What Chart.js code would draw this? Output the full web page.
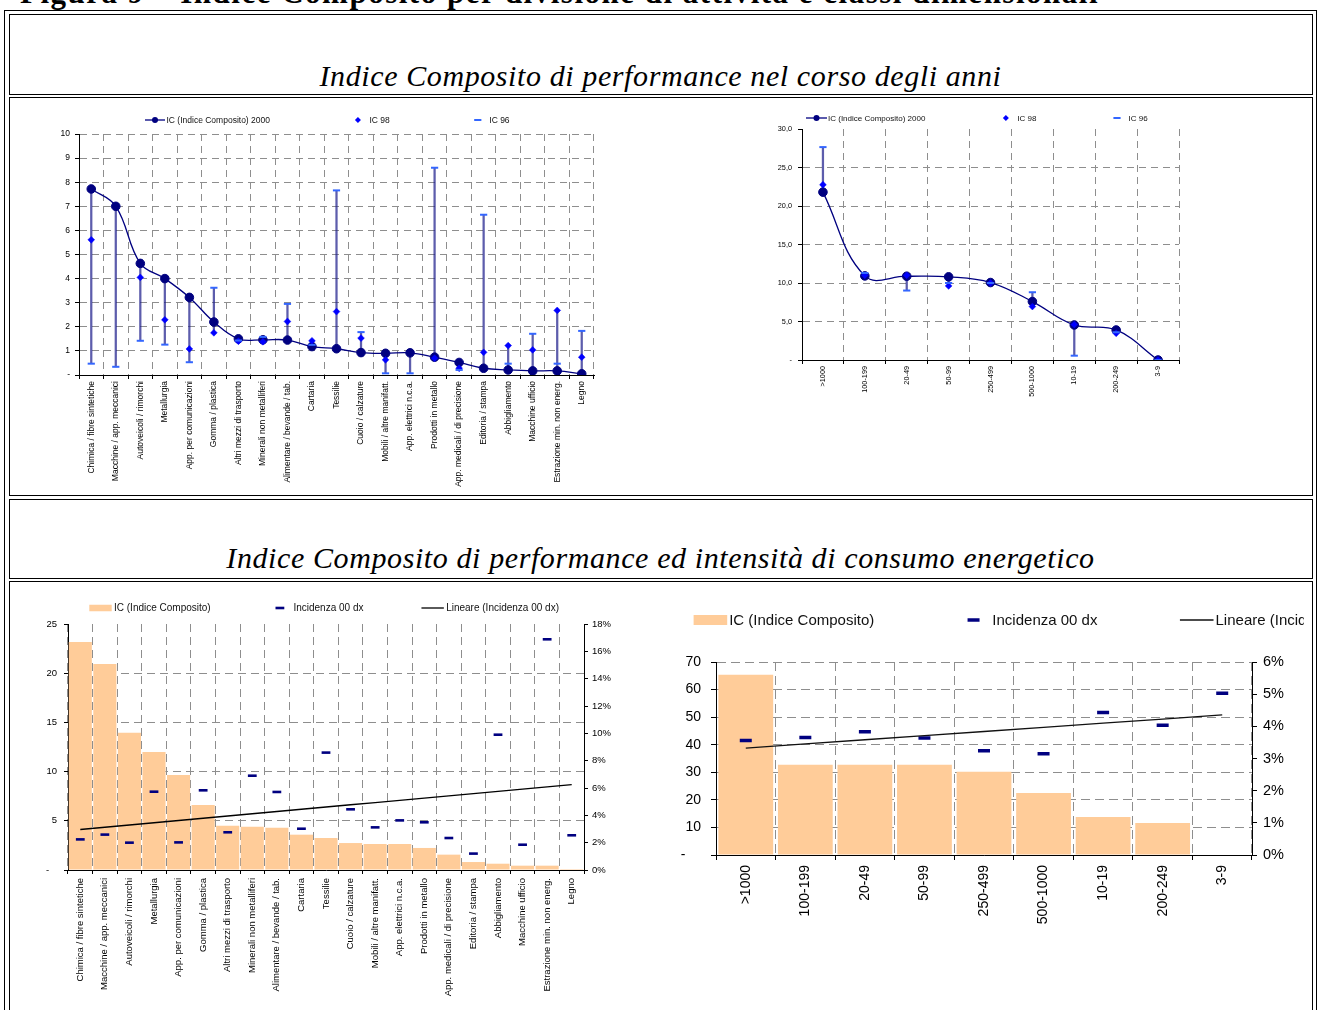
<!DOCTYPE html>
<html lang="it">
<head>
<meta charset="utf-8">
<title>Indice Composito di performance</title>
<script src="https://cdn.jsdelivr.net/npm/chart.js@4.4.1/dist/chart.umd.min.js"></script>
<style>
  html, body { margin: 0; padding: 0; background: #fff; }
  body { width: 1318px; height: 1010px; overflow: hidden; position: relative; }
  .frame { position: absolute; box-sizing: border-box; border: 1.5px solid #000; }
  .cell { position: absolute; box-sizing: border-box; border: 1.8px solid #000; left: 8.5px; width: 1304px; }
  .heading { position: absolute; left: 20px; top: -23px; font: bold 31px "Liberation Serif", serif; letter-spacing: 1.5px; line-height: 1; white-space: nowrap; color: #000; }
  .subtitle { position: absolute; left: 8.5px; width: 1304px; text-align: center; font: italic 30px "Liberation Serif", serif; letter-spacing: 0.6px; line-height: 1; white-space: nowrap; color: #000; }
  canvas { position: absolute; }
</style>
</head>
<body>
<div class="heading">Figura 9 – Indice Composito per divisione di attività e classi dimensionali</div>
<div class="frame" style="left:4px;top:10px;width:1313px;height:1040px"></div>
<div class="cell" style="top:14px;height:81px"></div>
<div class="cell" style="top:97px;height:398.5px"></div>
<div class="cell" style="top:498.5px;height:80.2px"></div>
<div class="cell" style="top:580.7px;height:470px"></div>
<div class="subtitle" style="top:61px">Indice Composito di performance nel corso degli anni</div>
<div class="subtitle" style="top:543px">Indice Composito di performance ed intensità di consumo energetico</div>
<canvas id="sectorYears" width="625" height="392" style="left:15px;top:100px"></canvas>
<canvas id="sizeYears" width="440" height="320" style="left:760px;top:100px"></canvas>
<canvas id="sectorEnergy" width="620" height="422" style="left:15px;top:588px"></canvas>
<canvas id="sizeEnergy" width="644" height="410" style="left:660px;top:600px"></canvas>
<script>
// ---- Divisioni di attività ----
const sectorLabels = [
  'Chimica / fibre sintetiche', 'Macchine / app. meccanici', 'Autoveicoli / rimorchi', 'Metallurgia',
  'App. per comunicazioni', 'Gomma / plastica', 'Altri mezzi di trasporto', 'Minerali non metalliferi',
  'Alimentare / bevande / tab.', 'Cartaria', 'Tessilie', 'Cuoio / calzature', 'Mobili / altre manifatt.',
  'App. elettrici n.c.a.', 'Prodotti in metallo', 'App. medicali / di precisione', 'Editoria / stampa',
  'Abbigliamento', 'Macchine ufficio', 'Estrazione min. non energ.', 'Legno'
];
const sectorIC2000 = [7.72, 7.0, 4.63, 4.0, 3.22, 2.2, 1.5, 1.46, 1.45, 1.18, 1.09, 0.93, 0.9, 0.92, 0.74, 0.52, 0.28, 0.21, 0.17, 0.17, 0.05];
const sectorIC98   = [5.61, null, 4.05, 2.29, 1.08, 1.75, 1.40, 1.38, 2.22, 1.42, 2.63, 1.53, 0.63, null, 0.70, 0.28, 0.94, 1.22, 1.04, 2.68, 0.74];
const sectorIC96   = [0.47, 0.34, 1.42, 1.26, 0.53, 3.62, 1.43, 1.58, 2.95, 1.25, 7.66, 1.78, 0.07, 0.07, 8.6, 0.21, 6.65, 0.47, 1.71, 0.47, 1.83];
const sectorIC     = [23.17, 20.93, 13.96, 11.99, 9.65, 6.6, 4.5, 4.4, 4.3, 3.59, 3.25, 2.74, 2.64, 2.64, 2.24, 1.56, 0.81, 0.64, 0.44, 0.44, 0.1];
const sectorIncidenza = [2.24, 2.59, 2.0, 5.73, 2.02, 5.83, 2.76, 6.9, 5.71, 3.02, 8.59, 4.44, 3.12, 3.63, 3.49, 2.34, 1.2, 9.9, 1.85, 16.88, 2.54]; // %

// ---- Classi dimensionali (addetti) ----
const sizeLabels = ['>1000', '100-199', '20-49', '50-99', '250-499', '500-1000', '10-19', '200-249', '3-9'];
const sizeIC2000 = [21.8, 10.92, 10.88, 10.8, 10.06, 7.59, 4.55, 3.9, 0];
const sizeIC98   = [22.76, 11.0, 11.0, 9.62, 10.0, 6.94, 4.6, 3.47, 0];
const sizeIC96   = [27.65, 11.3, 9.02, 10.0, 10.0, 8.8, 0.56, 3.6, 0];
const sizeIC     = [65.4, 32.7, 32.7, 32.7, 30.2, 22.5, 13.8, 11.6, 0];
const sizeIncidenza = [3.56, 3.65, 3.83, 3.64, 3.24, 3.15, 4.43, 4.03, 5.03]; // %

// ---- tick values ----
const sectorYearsTicks = [0, 1, 2, 3, 4, 5, 6, 7, 8, 9, 10];
const sizeYearsTicks = [0, 5, 10, 15, 20, 25, 30];
const sectorEnergyTicks = [0, 5, 10, 15, 20, 25];
const sectorEnergyPctTicks = [0, 2, 4, 6, 8, 10, 12, 14, 16, 18];
const sizeEnergyTicks = [0, 10, 20, 30, 40, 50, 60, 70];
const sizeEnergyPctTicks = [0, 1, 2, 3, 4, 5, 6];

const FONT = '"Liberation Sans", Arial, sans-serif';
const NAVY = '#000080', BLUE = '#0000FF', LIGHT = '#3366FF', PEACH = '#FFCC99';
const GRID = '#8e8e8e', HILO = 'rgba(30,30,140,0.72)';

// high-low span of the three surveys for each category
function spread(a, b, c) {
  return a.map((v, i) => {
    const vals = [v, b[i], c[i]].filter(x => x !== null && x !== undefined);
    return [Math.min(...vals), Math.max(...vals)];
  });
}

// least-squares linear trend over category positions 1..n
function linearTrend(values) {
  const n = values.length;
  let sx = 0, sy = 0, sxy = 0, sxx = 0;
  values.forEach((v, i) => { const x = i + 1; sx += x; sy += v; sxy += x * v; sxx += x * x; });
  const b = (n * sxy - sx * sy) / (n * sxx - sx * sx);
  const a = (sy - b * sx) / n;
  return values.map((_, i) => a + b * (i + 1));
}

// legend samples drawn in a single row, Excel style
function drawSample(ctx, ds, x, y, w, opts) {
  const cx = x + w / 2;
  ctx.save();
  switch (ds.legendSample) {
    case 'lineDot':
      ctx.strokeStyle = ds.borderColor; ctx.lineWidth = ds.borderWidth;
      ctx.beginPath(); ctx.moveTo(x, y); ctx.lineTo(x + w, y); ctx.stroke();
      ctx.fillStyle = ds.pointBackgroundColor;
      ctx.beginPath(); ctx.arc(cx, y, opts.dotRadius, 0, Math.PI * 2); ctx.fill();
      break;
    case 'diamond': {
      const r = opts.dotRadius;
      ctx.fillStyle = ds.pointBackgroundColor;
      ctx.beginPath(); ctx.moveTo(cx, y - r); ctx.lineTo(cx + r, y); ctx.lineTo(cx, y + r); ctx.lineTo(cx - r, y); ctx.closePath(); ctx.fill();
      break;
    }
    case 'dash':
      ctx.strokeStyle = ds.pointBorderColor; ctx.lineWidth = ds.pointBorderWidth;
      ctx.beginPath(); ctx.moveTo(cx - ds.pointRadius, y); ctx.lineTo(cx + ds.pointRadius, y); ctx.stroke();
      break;
    case 'box':
      ctx.fillStyle = ds.backgroundColor;
      ctx.fillRect(x, y - opts.boxHeight / 2, w, opts.boxHeight);
      break;
    case 'line':
      ctx.strokeStyle = ds.borderColor; ctx.lineWidth = ds.borderWidth;
      ctx.beginPath(); ctx.moveTo(x, y); ctx.lineTo(x + w, y); ctx.stroke();
      break;
  }
  ctx.restore();
}

const rowLegend = {
  id: 'rowLegend',
  afterDraw(chart, args, opts) {
    const ctx = chart.ctx;
    ctx.save();
    ctx.font = opts.size + 'px ' + FONT;
    ctx.textBaseline = 'middle';
    let x = opts.x;
    chart.data.datasets.forEach(ds => {
      if (!ds.legendSample) return;
      drawSample(ctx, ds, x, opts.y, opts.sampleWidth, opts);
      x += opts.sampleWidth + opts.textGap;
      ctx.fillStyle = '#111';
      ctx.fillText(ds.label, x, opts.y + 0.5);
      x += ctx.measureText(ds.label).width + opts.itemGap;
    });
    ctx.restore();
  }
};

const fixWidth = w => scale => { scale.width = w; };
const fixHeight = h => scale => { scale.height = h; };
const fromList = list => scale => { scale.ticks = list.map(v => ({ value: v })); };
const hideTop = max => c => (c.tick && c.tick.value === max ? 'rgba(0,0,0,0)' : GRID);

function categoryAxis(size, height, tickLen, pad, dash) {
  return {
    offset: true,
    grid: { offset: true, color: GRID, lineWidth: 1, tickColor: '#000', tickLength: tickLen },
    border: { color: '#000', width: 1, dash: dash },
    ticks: { font: { family: FONT, size: size }, color: '#000', minRotation: 90, maxRotation: 90, autoSkip: false, padding: pad },
    afterFit: fixHeight(height)
  };
}

function valueAxis(o) {
  return {
    position: o.position || 'left',
    min: o.list[0], max: o.list[o.list.length - 1],
    afterBuildTicks: fromList(o.list),
    grid: {
      color: o.gridColor || GRID, lineWidth: 1, tickColor: '#000', tickLength: o.tickLen,
      drawOnChartArea: o.drawGrid !== false
    },
    border: { color: '#000', width: 1, dash: o.dash },
    ticks: { font: { family: FONT, size: o.size }, color: '#000', padding: o.pad, callback: o.fmt },
    afterFit: fixWidth(o.width)
  };
}

const common = {
  responsive: false,
  animation: false,
  events: [],
  devicePixelRatio: 1
};

// ===== Indice Composito per divisione, 2000 / 98 / 96 =====
new Chart(document.getElementById('sectorYears'), {
  type: 'line',
  data: {
    labels: sectorLabels,
    datasets: [
      { label: 'IC (Indice Composito) 2000', data: sectorIC2000, borderColor: NAVY, borderWidth: 1.3,
        tension: 0.4, pointRadius: 4.3, pointBorderWidth: 1, pointBackgroundColor: NAVY, pointBorderColor: NAVY,
        order: 3, legendSample: 'lineDot' },
      { label: 'IC 98', data: sectorIC98, showLine: false, pointStyle: 'rectRot', pointRadius: 3.4,
        pointBorderWidth: 0.5, pointBackgroundColor: BLUE, pointBorderColor: BLUE, borderColor: BLUE,
        order: 2, legendSample: 'diamond' },
      { label: 'IC 96', data: sectorIC96, showLine: false, pointStyle: 'line', pointRadius: 3.6,
        pointBorderWidth: 2, pointBorderColor: LIGHT, borderColor: LIGHT,
        order: 1, legendSample: 'dash' },
      { type: 'bar', label: 'range', data: spread(sectorIC2000, sectorIC98, sectorIC96),
        backgroundColor: HILO, borderWidth: 0, barThickness: 1.6, order: 10 }
    ]
  },
  options: Object.assign({}, common, {
    layout: { padding: { top: 34, right: 46, left: 0, bottom: 0 } },
    scales: {
      x: categoryAxis(8.5, 117, 4, 2, [7, 5]),
      y: valueAxis({ list: sectorYearsTicks, size: 8.5, tickLen: 4, pad: 5, width: 64, dash: [7, 5],
        fmt: v => (v === 0 ? '-' : v) })
    },
    plugins: {
      legend: { display: false }, tooltip: { enabled: false },
      rowLegend: { x: 130, y: 20, sampleWidth: 20, textGap: 1.5, itemGap: 78, size: 8.5, dotRadius: 3 }
    }
  }),
  plugins: [rowLegend]
});

// ===== Indice Composito per classe dimensionale, 2000 / 98 / 96 =====
new Chart(document.getElementById('sizeYears'), {
  type: 'line',
  data: {
    labels: sizeLabels,
    datasets: [
      { label: 'IC (Indice Composito) 2000', data: sizeIC2000, borderColor: NAVY, borderWidth: 1.3,
        tension: 0.4, pointRadius: 4.3, pointBorderWidth: 1, pointBackgroundColor: NAVY, pointBorderColor: NAVY,
        order: 3, legendSample: 'lineDot' },
      { label: 'IC 98', data: sizeIC98, showLine: false, pointStyle: 'rectRot', pointRadius: 3.4,
        pointBorderWidth: 0.5, pointBackgroundColor: BLUE, pointBorderColor: BLUE, borderColor: BLUE,
        order: 2, legendSample: 'diamond' },
      { label: 'IC 96', data: sizeIC96, showLine: false, pointStyle: 'line', pointRadius: 3.6,
        pointBorderWidth: 2, pointBorderColor: LIGHT, borderColor: LIGHT,
        order: 1, legendSample: 'dash' },
      { type: 'bar', label: 'range', data: spread(sizeIC2000, sizeIC98, sizeIC96),
        backgroundColor: HILO, borderWidth: 0, barThickness: 1.6, order: 10 }
    ]
  },
  options: Object.assign({}, common, {
    layout: { padding: { top: 29, right: 21, left: 0, bottom: 0 } },
    scales: {
      x: categoryAxis(7.3, 60, 4, 2, [7, 5]),
      y: valueAxis({ list: sizeYearsTicks, size: 7.3, tickLen: 4, pad: 6, width: 42, dash: [7, 5],
        gridColor: hideTop(30),
        fmt: v => (v === 0 ? '-' : v.toFixed(1).replace('.', ',')) })
    },
    plugins: {
      legend: { display: false }, tooltip: { enabled: false },
      rowLegend: { x: 46, y: 18, sampleWidth: 21, textGap: 1, itemGap: 70, size: 8, dotRadius: 3 }
    }
  }),
  plugins: [rowLegend]
});

// ===== IC e incidenza energetica per divisione =====
new Chart(document.getElementById('sectorEnergy'), {
  type: 'bar',
  data: {
    labels: sectorLabels,
    datasets: [
      { label: 'IC (Indice Composito)', data: sectorIC, backgroundColor: PEACH, borderWidth: 0,
        categoryPercentage: 0.94, barPercentage: 1, yAxisID: 'y', order: 3, legendSample: 'box' },
      { type: 'line', label: 'Incidenza 00 dx', data: sectorIncidenza, yAxisID: 'y2', showLine: false,
        pointStyle: 'line', pointRadius: 4.4, pointBorderWidth: 2.6, pointBorderColor: NAVY, borderColor: NAVY,
        order: 2, legendSample: 'dash' },
      { type: 'line', label: 'Lineare (Incidenza 00 dx)', data: linearTrend(sectorIncidenza), yAxisID: 'y2',
        borderColor: '#000', borderWidth: 1.3, pointRadius: 0, tension: 0, order: 1, legendSample: 'line' }
    ]
  },
  options: Object.assign({}, common, {
    layout: { padding: { top: 36, right: 0, left: 0, bottom: 0 } },
    scales: {
      x: categoryAxis(9.5, 140, 4, 4, [8, 5]),
      y: valueAxis({ list: sectorEnergyTicks, size: 9.5, tickLen: 4, pad: 7, width: 53, dash: [8, 5],
        gridColor: hideTop(25), fmt: v => (v === 0 ? '-   ' : v) }),
      y2: valueAxis({ position: 'right', list: sectorEnergyPctTicks, size: 9.5, tickLen: 4, pad: 4, width: 51,
        drawGrid: false, fmt: v => v + '%' })
    },
    plugins: {
      legend: { display: false }, tooltip: { enabled: false },
      rowLegend: { x: 74.3, y: 20, sampleWidth: 22.4, textGap: 2.3, itemGap: 58, size: 10, boxHeight: 6.5 }
    }
  }),
  plugins: [rowLegend]
});

// ===== IC e incidenza energetica per classe dimensionale =====
new Chart(document.getElementById('sizeEnergy'), {
  type: 'bar',
  data: {
    labels: sizeLabels,
    datasets: [
      { label: 'IC (Indice Composito)', data: sizeIC, backgroundColor: PEACH, borderWidth: 0,
        categoryPercentage: 0.92, barPercentage: 1, yAxisID: 'y', order: 3, legendSample: 'box' },
      { type: 'line', label: 'Incidenza 00 dx', data: sizeIncidenza, yAxisID: 'y2', showLine: false,
        pointStyle: 'line', pointRadius: 6, pointBorderWidth: 3.5, pointBorderColor: NAVY, borderColor: NAVY,
        order: 2, legendSample: 'dash' },
      { type: 'line', label: 'Lineare (Incidenza 00 dx)', data: linearTrend(sizeIncidenza), yAxisID: 'y2',
        borderColor: '#111', borderWidth: 1.3, pointRadius: 0, tension: 0, order: 1, legendSample: 'line' }
    ]
  },
  options: Object.assign({}, common, {
    layout: { padding: { top: 62, right: 0, left: 0, bottom: 0 } },
    scales: {
      x: categoryAxis(14, 155, 5, 5, [9, 5]),
      y: valueAxis({ list: sizeEnergyTicks, size: 14, tickLen: 5, pad: 10, width: 56, dash: [9, 5],
        fmt: v => (v === 0 ? '-    ' : v) }),
      y2: valueAxis({ position: 'right', list: sizeEnergyPctTicks, size: 14.5, tickLen: 5, pad: 6, width: 52,
        drawGrid: false, fmt: v => v + '%' })
    },
    plugins: {
      legend: { display: false }, tooltip: { enabled: false },
      rowLegend: { x: 33.6, y: 20, sampleWidth: 33.6, textGap: 2, itemGap: 82.5, size: 15, boxHeight: 10 }
    }
  }),
  plugins: [rowLegend]
});
</script>
</body>
</html>
